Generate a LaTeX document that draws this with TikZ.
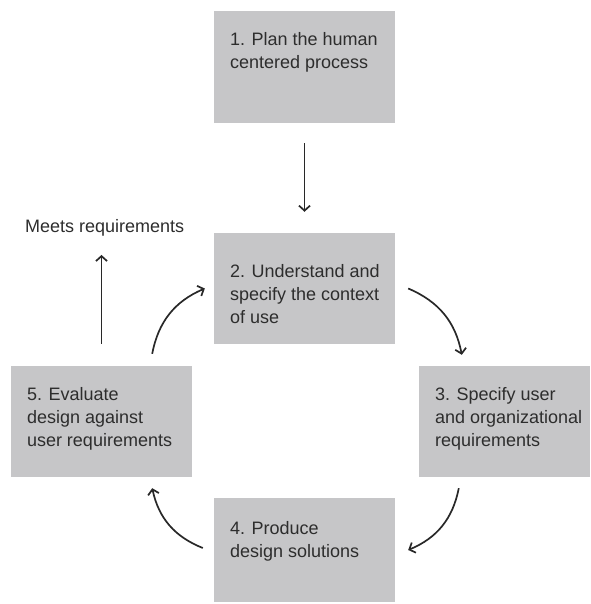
\documentclass[tikz,border=0pt]{standalone}
\usepackage{fontspec}
\setmainfont{Liberation Sans}
\usetikzlibrary{arrows.meta, positioning}

\definecolor{boxgray}{RGB}{198,198,200}
\definecolor{txtgray}{RGB}{45,45,45}
\definecolor{arrgray}{RGB}{40,40,40}

% box text: width, height, first baseline, lines
\newcommand{\boxtxt}[4]{\parbox[c][#2][t]{#1}{\raggedright\leftskip=16pt\rule{0pt}{#3}#4}}

\begin{document}
\begin{tikzpicture}[x=1pt,y=1pt,on grid,
    font=\fontsize{18}{23}\selectfont, text=txtgray,
    stage/.style={fill=boxgray, inner sep=0pt},
    flow/.style={-{Straight Barb[length=5pt,width=11pt]}, line width=1.7pt, draw=arrgray},
    loop/.style={flow, bend left=28}]
    \useasboundingbox (0,0) rectangle (590,604);
    \node[stage] (s1) at (304.5,537) {\boxtxt{181pt}{112pt}{35pt}{1. Plan the human\\centered process}};
    \node[stage] (s2) [below=221.5 of s1] {\boxtxt{181pt}{111pt}{45pt}{2. Understand and\\specify the context\\of use}};
    \node[stage] (s3) [below right=133 and 200 of s2] {\boxtxt{171pt}{111pt}{35pt}{3. Specify user\\and organizational\\requirements}};
    \node[stage] (s4) [below=261.5 of s2] {\boxtxt{181pt}{104pt}{37pt}{4. Produce\\design solutions}};
    \node[stage] (s5) [below left=133 and 203 of s2] {\boxtxt{181pt}{111pt}{35pt}{5. Evaluate\\design against\\user requirements}};
    \node[inner sep=0pt, anchor=base west] (goal) at (25,371) {Meets requirements};

    \path[flow] (s1) edge[shorten <=20pt, shorten >=21pt] (s2);
    \draw[flow, shorten <=22pt, shorten >=18pt] (s5.north) -- (s5.north |- goal.south);
    \draw[loop] ([shift={(-40pt,12pt)}]s5.north east) to ([xshift=-9pt]s2.west);
    \draw[loop] ([xshift=13pt]s2.east) to ([shift={(43pt,11pt)}]s3.north west);
    \draw[loop] ([shift={(40pt,-11pt)}]s3.south west) to ([xshift=13pt]s4.east);
    \draw[loop] ([shift={(-11pt,2pt)}]s4.west) to ([shift={(-40pt,-11pt)}]s5.south east);
\end{tikzpicture}
\end{document}
